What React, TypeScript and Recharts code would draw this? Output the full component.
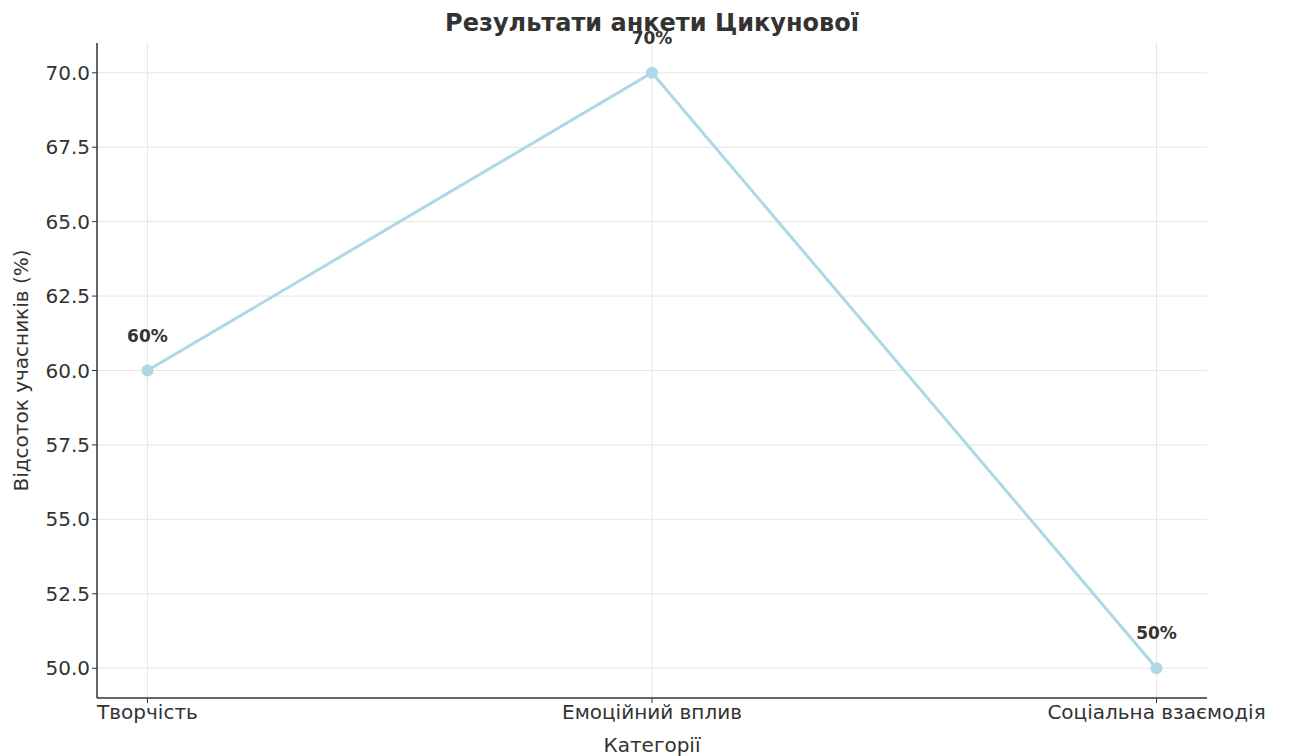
import React from 'react';
import { LineChart, Line, XAxis, YAxis, CartesianGrid, LabelList } from 'recharts';

const categories = ['Творчість', 'Емоційний вплив', 'Соціальна взаємодія'];
const values = [60, 70, 50];
const yTicks = [50, 52.5, 55, 57.5, 60, 62.5, 65, 67.5, 70];

const data = categories.map((name, i) => ({ idx: i, name, value: values[i] }));

const FONT = 'DejaVu Sans, sans-serif';

export default function App() {
  return (
    <div style={{ position: 'absolute', left: 0, top: 0, width: 1293, height: 756, background: '#fff', fontFamily: FONT }}>
      <LineChart width={1293} height={756} data={data} margin={{ top: 43, right: 86, bottom: 28, left: 37 }}>
        <CartesianGrid stroke="#e6e6e6" verticalValues={[0, 1, 2]} horizontalValues={yTicks} />
        <XAxis
          dataKey="idx"
          type="number"
          domain={[-0.1, 2.1]}
          ticks={[0, 1, 2]}
          tickFormatter={(v: number) => categories[v]}
          height={30}
          tickSize={5}
          tickLine={{ stroke: '#333' }}
          axisLine={{ stroke: '#333', strokeWidth: 1.5 }}
          tick={{ fontSize: 20, fill: '#333', fontFamily: FONT }}
          label={{ value: 'Категорії', position: 'insideBottom', offset: -24, fontSize: 20, fill: '#333', fontFamily: FONT }}
        />
        <YAxis
          type="number"
          domain={[49, 71]}
          ticks={yTicks}
          tickFormatter={(v: number) => v.toFixed(1)}
          width={60}
          tickSize={5}
          tickLine={{ stroke: '#333' }}
          axisLine={{ stroke: '#333', strokeWidth: 1.5 }}
          tick={{ fontSize: 20, fill: '#333', fontFamily: FONT }}
          label={{
            value: 'Відсоток учасників (%)',
            angle: -90,
            position: 'insideLeft',
            dx: -21,
            dy: 0,
            style: { textAnchor: 'middle' },
            fontSize: 20,
            fill: '#333',
            fontFamily: FONT,
          }}
        />
        <Line
          dataKey="value"
          stroke="#add8e6"
          strokeWidth={3}
          dot={{ r: 6, fill: '#add8e6', stroke: '#add8e6', strokeWidth: 0 }}
          isAnimationActive={false}
        >
          <LabelList
            dataKey="value"
            position="top"
            offset={29}
            formatter={(v: number) => `${v}%`}
            style={{ fontSize: 17, fontWeight: 'bold', fill: '#333', fontFamily: FONT }}
          />
        </Line>
      </LineChart>
      <div
        style={{
          position: 'absolute',
          left: 97,
          width: 1110,
          top: 9,
          textAlign: 'center',
          fontSize: 24,
          fontWeight: 'bold',
          color: '#333',
        }}
      >
        Результати анкети Цикунової
      </div>
    </div>
  );
}
